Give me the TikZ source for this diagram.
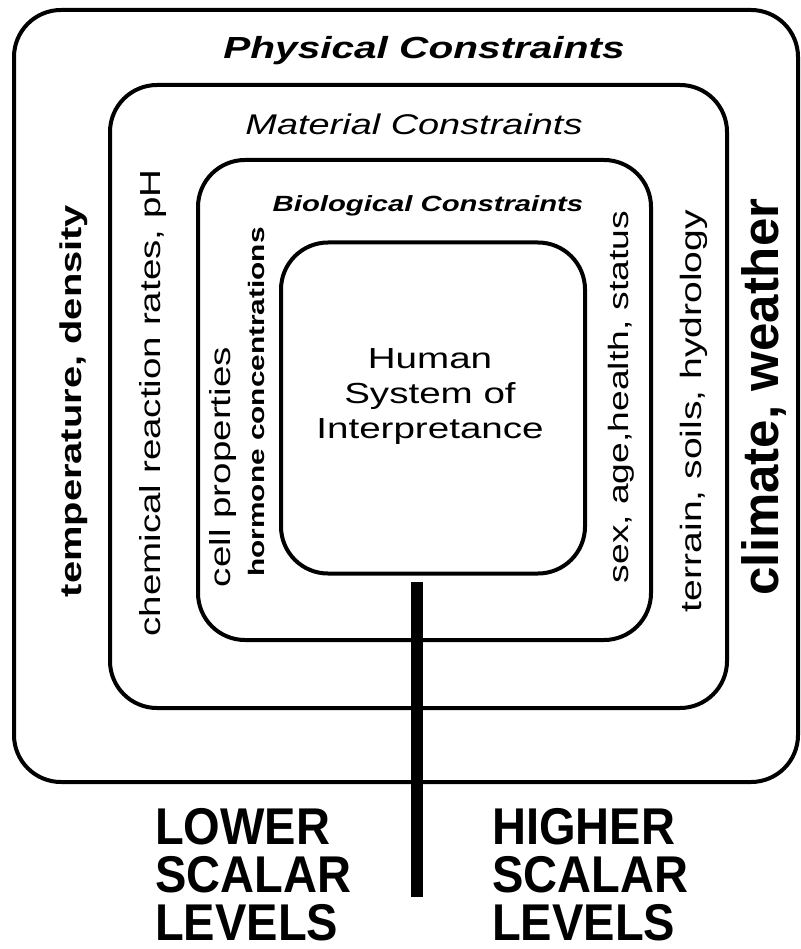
\documentclass[tikz,border=0pt]{standalone}
\usepackage{fontspec}
\setmainfont{Liberation Sans}
\newfontfamily\widesans[FakeStretch=1.33]{Liberation Sans}
\newfontfamily\narrowsans[FakeStretch=0.91]{Liberation Sans}
\usepackage{tikz}
\usetikzlibrary{positioning}

\tikzset{
  frame/.style={draw, line width=4pt, rounded corners=47pt, inner sep=0pt},
  sidelabel/.style={rotate=90, inner sep=0pt, font=\widesans\fontsize{29}{35}\selectfont},
  toplabel/.style={anchor=base, inner sep=0pt},
  levellabel/.style={anchor=north west, inner sep=0pt, align=left,
    font=\narrowsans\bfseries\fontsize{51.7}{48}\selectfont},
}

\begin{document}
\begin{tikzpicture}[x=1pt, y=-1pt]
\useasboundingbox (0,0) rectangle (800,949);

% nested frames
\node[frame, minimum width=784pt, minimum height=772pt] (physical)   at (406,396) {};
\node[frame, minimum width=617pt, minimum height=623pt] (material)   at (418.5,396.5) {};
\node[frame, minimum width=453pt, minimum height=480pt] (biological) at (424.5,400) {};
\node[frame, minimum width=304pt, minimum height=331pt] (human)      at (433,408) {};

% frame titles
\node[toplabel, font=\widesans\bfseries\itshape\fontsize{30.5}{36}\selectfont] (physt) at (424,59) {Physical Constraints};
\node[toplabel, font=\widesans\itshape\fontsize{28.5}{34}\selectfont] (matt) at (414,135) {Material Constraints};
\node[toplabel, font=\widesans\bfseries\itshape\fontsize{22}{26}\selectfont] (biot) at (428,212) {Biological Constraints};

% centre
\node[anchor=north, inner sep=0pt, align=center, font=\widesans\fontsize{29}{35}\selectfont] (hsi) at (430,348)
  {Human\\System of\\Interpretance};

% side labels
\node[sidelabel, font=\widesans\bfseries\fontsize{30}{36}\selectfont] (temp) at (74,401) {temperature, density};
\node[sidelabel] (chem) at (153,403) {chemical reaction rates, pH};
\node[sidelabel] (cell) at (223,467) {cell properties};
\node[sidelabel, font=\widesans\bfseries\fontsize{22.4}{27}\selectfont] (horm) at (256,402) {hormone concentrations};
\node[sidelabel, font=\widesans\fontsize{28}{34}\selectfont] (sex) at (621,397) {sex, age,health, status};
\node[sidelabel, font=\widesans\fontsize{29.4}{35}\selectfont] (terr) at (694,411) {terrain, soils, hydrology};
\node[sidelabel, font=\bfseries\fontsize{51}{60}\selectfont] (clim) at (764,397) {climate, weather};

% scale divider
\coordinate (divtop) at (416.5,582);
\coordinate (divend) at (416.5,897);
\draw[line width=12pt] (divtop) -- (divend);

\node[levellabel] (lower)  at (155,808) {LOWER\\SCALAR\\LEVELS};
\node[levellabel] (higher) at (492,808) {HIGHER\\SCALAR\\LEVELS};
\end{tikzpicture}
\end{document}
